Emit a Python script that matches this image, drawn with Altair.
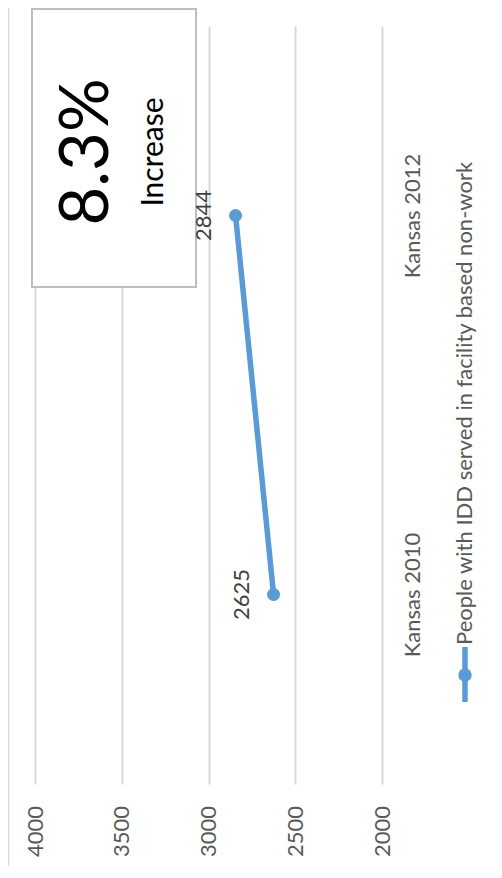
import altair as alt
import pandas as pd

# ---- data ----
categories = ["Kansas 2010", "Kansas 2012"]
values = [2625, 2844]
series_name = "People with IDD served in facility based non-work"
axis_ticks = [2000, 2500, 3000, 3500, 4000]
value_domain = [2000, 4000]
callout_value = ["8.3%"]
callout_label = ["Increase"]

df = pd.DataFrame({"category": categories, "value": values})

FONT = "Lato"
BLUE = "#5b9bd5"
GRID = "#d9d9d9"
TEXT = "#595959"
FS = 22

x_enc = alt.X(
    "value:Q",
    scale=alt.Scale(domain=value_domain, reverse=True, nice=False, zero=False),
    axis=alt.Axis(values=axis_ticks, format="d", title=None, grid=True, gridColor=GRID,
                  gridWidth=2, domain=False, ticks=False, labelAngle=270,
                  labelAlign="center", labelBaseline="middle", labelPadding=47,
                  labelColor=TEXT, labelFont=FONT, labelFontSize=FS),
)
y_enc = alt.Y(
    "category:N",
    sort=categories[::-1],
    scale=alt.Scale(type="point", padding=0.5),
    axis=alt.Axis(orient="right", title=None, grid=False, domain=False, ticks=False,
                  labelAngle=270, labelAlign="center", labelBaseline="middle",
                  labelPadding=30, labelColor=TEXT, labelFont=FONT, labelFontSize=FS),
)

base = alt.Chart(df).encode(x=x_enc, y=y_enc)
line = base.mark_line(color=BLUE, strokeWidth=5.5)
pts = base.mark_circle(color=BLUE, size=170, opacity=1)
labels = base.mark_text(angle=270, dy=-32, align="center", baseline="middle",
                        font=FONT, fontSize=FS, color="#404040").encode(text="value:Q")

one = pd.DataFrame({"k": [0]})
left_border = alt.Chart(one).mark_rule(color=GRID, strokeWidth=1.5).encode(
    x=alt.value(-26.5), y=alt.value(-18), y2=alt.value(841))
bottom_border = alt.Chart(one).mark_rule(color=GRID, strokeWidth=1.5).encode(
    x=alt.value(-26.5), x2=alt.value(459), y=alt.value(841))

box = alt.Chart(one).mark_rect(fill="white", stroke="#bfbfbf", strokeWidth=2).encode(
    x=alt.value(-3), x2=alt.value(161), y=alt.value(-17), y2=alt.value(261))
big = alt.Chart(pd.DataFrame({"t": callout_value})).mark_text(
    angle=270, align="center", baseline="middle", font=FONT, fontSize=67, color="black"
).encode(x=alt.value(53), y=alt.value(126), text="t:N")
small = alt.Chart(pd.DataFrame({"t": callout_label})).mark_text(
    angle=270, align="center", baseline="middle", font=FONT, fontSize=30, color="black"
).encode(x=alt.value(119), y=alt.value(126), text="t:N")

leg_rule = alt.Chart(one).mark_rule(color=BLUE, strokeWidth=5.5).encode(
    x=alt.value(430), y=alt.value(621), y2=alt.value(676))
leg_pt = alt.Chart(one).mark_circle(color=BLUE, size=180, opacity=1).encode(
    x=alt.value(430), y=alt.value(649))
leg_txt = alt.Chart(pd.DataFrame({"t": [series_name]})).mark_text(
    angle=270, align="left", baseline="middle", font=FONT, fontSize=FS, color=TEXT
).encode(x=alt.value(430), y=alt.value(619), text="t:N")

chart = alt.layer(
    left_border, bottom_border, box, big, small, line, pts, labels, leg_rule, leg_pt, leg_txt
).properties(
    width=347, height=758,
    autosize=alt.AutoSizeParams(type="none"),
    padding={"left": 27, "top": 18, "right": 112, "bottom": 82},
).configure_view(stroke=None)

chart.save("out.html", embed_options={"renderer": "svg", "actions": False})
